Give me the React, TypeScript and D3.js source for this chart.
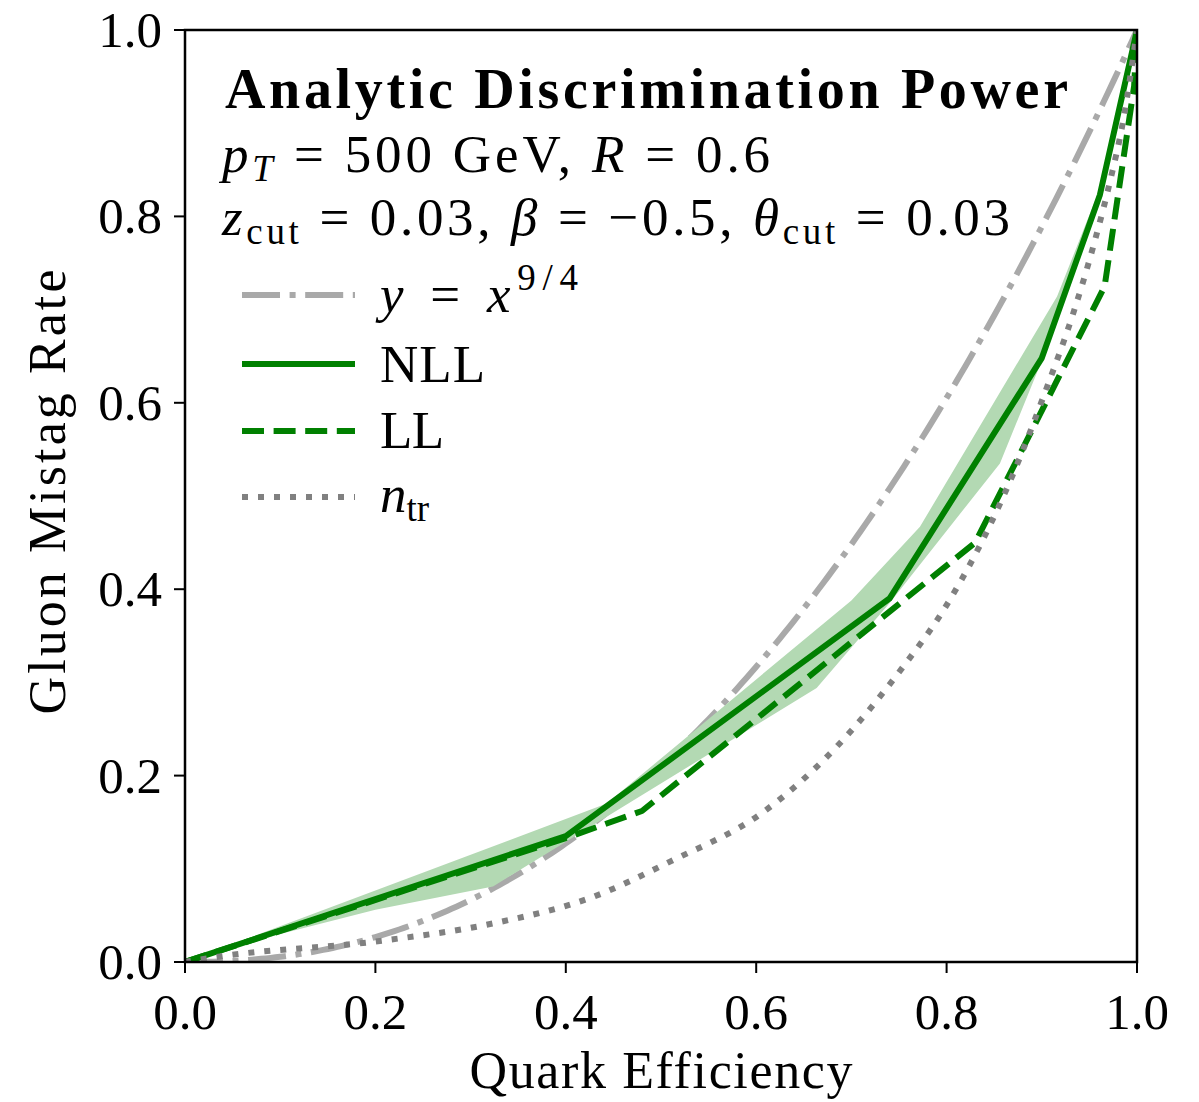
import React from "react";
import * as d3 from "d3";

// ---- data ----
const xTicks = [0, 0.2, 0.4, 0.6, 0.8, 1.0];
const yTicks = [0, 0.2, 0.4, 0.6, 0.8, 1.0];

const powerLawExponent = 9 / 4;
const powerLawX = d3.range(0, 1.0001, 0.005);

const nllX = [0, 0.40, 0.74, 0.90, 0.961, 1.0];
const nllY = [0, 0.135, 0.39, 0.648, 0.823, 1.0];

const llX = [0, 0.40, 0.48, 0.83, 0.966, 0.997, 1.0];
const llY = [0, 0.133, 0.162, 0.45, 0.725, 0.94, 1.0];

const bandUpperX = [0, 0.443, 0.70, 0.772, 0.916, 0.961, 1.0];
const bandUpperY = [0, 0.170, 0.388, 0.467, 0.714, 0.83, 1.0];
const bandLowerX = [0, 0.1, 0.2, 0.3235, 0.6635, 0.74, 0.856, 0.90, 0.961, 1.0];
const bandLowerY = [0, 0.03, 0.056, 0.081, 0.294, 0.385, 0.535, 0.645, 0.815, 1.0];

const ntrX = [0, 0.037, 0.2, 0.324, 0.429, 0.51, 0.6075, 0.6845, 0.7545, 0.797, 0.87, 0.9055, 0.933, 0.954, 0.972, 0.985, 1.0];
const ntrY = [0, 0.006, 0.022, 0.0415, 0.070, 0.108, 0.161, 0.231, 0.317, 0.378, 0.524, 0.617, 0.696, 0.7675, 0.839, 0.9, 1.0];

const W = 1199;
const H = 1102;
const L = 185, R = 1137, T = 30, B = 962;

const FONT = "'Liberation Serif', 'Times New Roman', serif";

export default function App() {
  const x = d3.scaleLinear().domain([0, 1]).range([L, R]);
  const y = d3.scaleLinear().domain([0, 1]).range([B, T]);

  const line = d3
    .line<[number, number]>()
    .x((d) => x(d[0]))
    .y((d) => y(d[1]));
  const smooth = d3
    .line<[number, number]>()
    .x((d) => x(d[0]))
    .y((d) => y(d[1]))
    .curve(d3.curveMonotoneX);

  const zip = (a: number[], b: number[]) => a.map((v, i) => [v, b[i]] as [number, number]);

  const powerPts = powerLawX.map((v) => [v, Math.pow(v, powerLawExponent)] as [number, number]);
  const bandPts = [...zip(bandUpperX, bandUpperY), ...zip(bandLowerX, bandLowerY).reverse()];

  const green = "#008000";
  const bandFill = "#b3d9b3";
  const dashdot = "#a9a9a9";
  const dotted = "#808080";
  const lw = 6;

  const legendRows = [
    { y: 295, stroke: dashdot, dash: "38,9.6,6,9.6", key: "pl" },
    { y: 364, stroke: green, dash: "", key: "nll" },
    { y: 431, stroke: green, dash: "22,9.6", key: "ll" },
    { y: 497, stroke: dotted, dash: "6,10", key: "ntr" },
  ];

  return (
    <svg width={W} height={H} viewBox={`0 0 ${W} ${H}`} style={{ display: "block", position: "absolute", left: 0, top: 0, background: "#fff" }}>
      <rect x={0} y={0} width={W} height={H} fill="#fff" />
      <defs>
        <clipPath id="plotclip">
          <rect x={L} y={T} width={R - L} height={B - T} />
        </clipPath>
      </defs>

      <g clipPath="url(#plotclip)">
        <path d={line(powerPts) || ""} fill="none" stroke={dashdot} strokeWidth={lw} strokeDasharray="38,9.6,6,9.6" />
        <path d={line(bandPts) + "Z"} fill={bandFill} stroke="none" />
        <path d={line(zip(nllX, nllY)) || ""} fill="none" stroke={green} strokeWidth={lw} strokeLinecap="square" strokeLinejoin="round" />
        <path d={line(zip(llX, llY)) || ""} fill="none" stroke={green} strokeWidth={lw} strokeDasharray="22,9.6" strokeLinejoin="round" />
        <path d={smooth(zip(ntrX, ntrY)) || ""} fill="none" stroke={dotted} strokeWidth={lw} strokeDasharray="6,10" />
      </g>

      {/* spines */}
      <rect x={L} y={T} width={R - L} height={B - T} fill="none" stroke="#000" strokeWidth={2.5} />

      {/* x ticks */}
      {xTicks.map((t) => (
        <g key={"xt" + t}>
          <line x1={x(t)} x2={x(t)} y1={B} y2={B + 11} stroke="#000" strokeWidth={2} />
          <text x={x(t)} y={1029} textAnchor="middle" fontFamily={FONT} fontSize={51}>
            {t.toFixed(1)}
          </text>
        </g>
      ))}
      {/* y ticks */}
      {yTicks.map((t) => (
        <g key={"yt" + t}>
          <line x1={L - 11} x2={L} y1={y(t)} y2={y(t)} stroke="#000" strokeWidth={2} />
          <text x={162} y={y(t) + 17} textAnchor="end" fontFamily={FONT} fontSize={51}>
            {t.toFixed(1)}
          </text>
        </g>
      ))}

      {/* axis labels */}
      <text x={661} y={1088} textAnchor="middle" fontFamily={FONT} fontSize={52} textLength={383}>
        Quark Efficiency
      </text>
      <text transform="translate(65,492) rotate(-90)" textAnchor="middle" fontFamily={FONT} fontSize={52} textLength={445}>
        Gluon Mistag Rate
      </text>

      {/* annotation */}
      <text x={225} y={108} fontFamily={FONT} fontSize={56} fontWeight="bold" textLength={843}>
        Analytic Discrimination Power
      </text>
      <text x={222} y={172} fontFamily={FONT} fontSize={53} textLength={548}>
        <tspan fontStyle="italic">p</tspan>
        <tspan fontStyle="italic" fontSize={37} dy={9}>T</tspan>
        <tspan dy={-9}> = 500 GeV, </tspan>
        <tspan fontStyle="italic">R</tspan>
        <tspan> = 0.6</tspan>
      </text>
      <text x={222} y={235} fontFamily={FONT} fontSize={53} textLength={788}>
        <tspan fontStyle="italic">z</tspan>
        <tspan fontSize={37} dy={9}>cut</tspan>
        <tspan dy={-9}> = 0.03, </tspan>
        <tspan fontStyle="italic">β</tspan>
        <tspan> = −0.5, </tspan>
        <tspan fontStyle="italic">θ</tspan>
        <tspan fontSize={37} dy={9}>cut</tspan>
        <tspan dy={-9}> = 0.03</tspan>
      </text>

      {/* legend */}
      {legendRows.map((r) => (
        <line key={r.key} x1={242} x2={355} y1={r.y} y2={r.y} stroke={r.stroke} strokeWidth={lw} strokeDasharray={r.dash || undefined} />
      ))}
      <text x={380} y={312} fontFamily={FONT} fontSize={53} textLength={198}>
        <tspan fontStyle="italic">y</tspan>
        <tspan> = </tspan>
        <tspan fontStyle="italic">x</tspan>
        <tspan fontSize={37} dy={-22}>9/4</tspan>
      </text>
      <text x={380} y={382} fontFamily={FONT} fontSize={53} textLength={105}>NLL</text>
      <text x={380} y={448} fontFamily={FONT} fontSize={53} textLength={64}>LL</text>
      <text x={380} y={512} fontFamily={FONT} fontSize={53}>
        <tspan fontStyle="italic">n</tspan>
        <tspan fontSize={37} dy={9}>tr</tspan>
      </text>
    </svg>
  );
}
